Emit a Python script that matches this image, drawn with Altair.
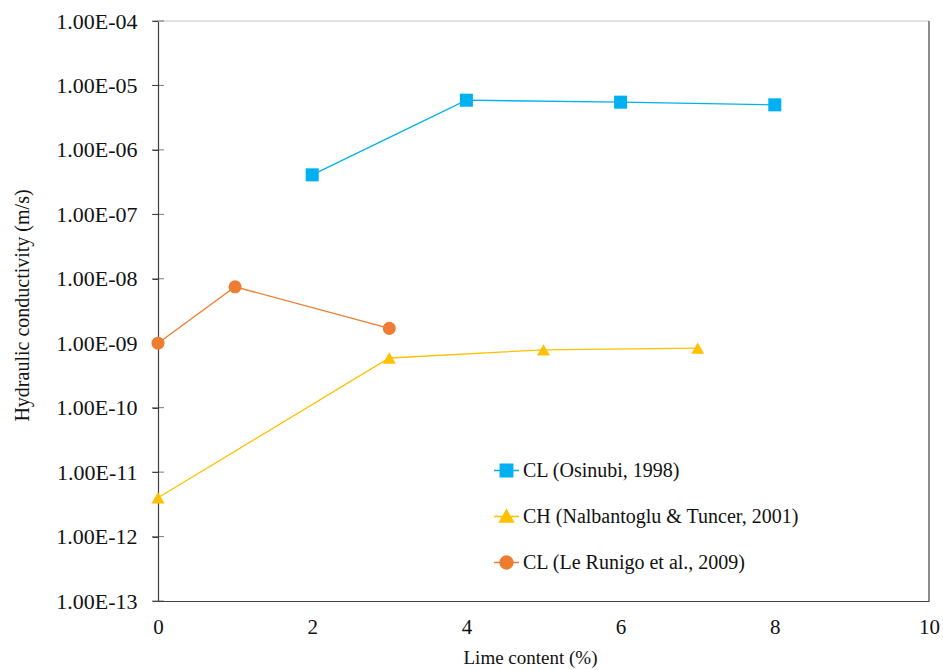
import altair as alt
import pandas as pd

# ---- data ----
series_names = ["CL (Osinubi, 1998)", "CH (Nalbantoglu & Tuncer, 2001)", "CL (Le Runigo et al., 2009)"]
series_colors = ["#00B0F0", "#FFC000", "#ED7D31"]
series_shapes = ["square", "triangle-up", "circle"]

osinubi_x = [2, 4, 6, 8]
osinubi_k = [4.1e-7, 5.9e-6, 5.5e-6, 5.0e-6]

nalban_x = [0, 3, 5, 7]
nalban_k = [4.0e-12, 5.9e-10, 7.9e-10, 8.4e-10]

runigo_x = [0, 1, 3]
runigo_k = [1.0e-9, 7.5e-9, 1.7e-9]

x_ticks = [0, 2, 4, 6, 8, 10]
y_ticks = [1e-13, 1e-12, 1e-11, 1e-10, 1e-9, 1e-8, 1e-7, 1e-6, 1e-5, 1e-4]

rows = []
for name, xs, ks in [(series_names[0], osinubi_x, osinubi_k),
                     (series_names[1], nalban_x, nalban_k),
                     (series_names[2], runigo_x, runigo_k)]:
    for xv, kv in zip(xs, ks):
        rows.append({"series": name, "lime": xv, "k": kv})
df = pd.DataFrame(rows)
ticks_df = pd.DataFrame({"lime": [x_ticks[0]] * len(y_ticks), "k": y_ticks})
top_df = pd.DataFrame({"k": [y_ticks[-1]]})
right_df = pd.DataFrame({"lime": [x_ticks[-1]]})

FONT = "Liberation Serif"
AXIS_COLOR = "#404040"
TEXT_COLOR = "#111111"

x_scale = alt.Scale(domain=[x_ticks[0], x_ticks[-1]], nice=False)
y_scale = alt.Scale(type="log", domain=[y_ticks[0], y_ticks[-1]], nice=False)
color_scale = alt.Scale(domain=series_names, range=series_colors)

label_expr = ("'1.00E-' + (round(-log(datum.value)/LN10) < 10 ? '0' : '') + "
              "round(-log(datum.value)/LN10)")

x_enc = alt.X("lime:Q", scale=x_scale,
              axis=alt.Axis(values=x_ticks, format="d", ticks=False, grid=False,
                            title="Lime content (%)",
                            labelFontSize=21, labelFont=FONT, labelColor=TEXT_COLOR,
                            labelPadding=15, labelFlush=False,
                            titleFont=FONT, titleFontSize=19, titleFontWeight="normal",
                            titleColor=TEXT_COLOR, titleX=372, titleY=56, titleBaseline="middle",
                            domainColor=AXIS_COLOR, domainWidth=1.2))
y_enc = alt.Y("k:Q", scale=y_scale,
              axis=alt.Axis(values=y_ticks, grid=False, labelExpr=label_expr,
                            title="Hydraulic conductivity (m/s)",
                            labelFontSize=22, labelFont=FONT, labelColor=TEXT_COLOR,
                            labelPadding=15, tickSize=6, tickColor=AXIS_COLOR,
                            domainColor=AXIS_COLOR, domainWidth=1.2,
                            titleFont=FONT, titleFontSize=20, titleFontWeight="normal",
                            titleColor=TEXT_COLOR, titleX=-136, titleY=284,
                            titleBaseline="middle", titleAngle=-90))

base = alt.Chart(df)

top_line = alt.Chart(top_df).mark_rule(color="#D9D9D9", strokeWidth=1.5).encode(
    y=alt.Y("k:Q", scale=y_scale))
right_line = alt.Chart(right_df).mark_rule(color=AXIS_COLOR, strokeWidth=1.2).encode(
    x=alt.X("lime:Q", scale=x_scale))
inner_ticks = alt.Chart(ticks_df).mark_tick(orient="horizontal", size=12, thickness=1,
                                            color=AXIS_COLOR).encode(
    x=alt.X("lime:Q", scale=x_scale), y=alt.Y("k:Q", scale=y_scale))

lines = base.mark_line(strokeWidth=1.3).encode(
    x=x_enc, y=y_enc,
    color=alt.Color("series:N", scale=color_scale, legend=None),
    detail="series:N", order="lime:Q")

points = base.mark_point(filled=True, size=170, opacity=1).encode(
    x=alt.X("lime:Q", scale=x_scale), y=alt.Y("k:Q", scale=y_scale),
    color=alt.Color("series:N", scale=color_scale, legend=None),
    shape=alt.Shape("series:N", scale=alt.Scale(domain=series_names, range=series_shapes),
                    legend=None))

# legend-only layer: line-through-symbol glyphs (no marks drawn, domain is explicit)
sq = "M-1,0H1M-0.5,-0.5H0.5V0.5H-0.5Z"
tri = "M-1,0H1M-0.56,0.44L0.56,0.44L0,-0.52Z"
circ = "M-1,0H1M-0.52,0A0.52,0.52 0 1,0 0.52,0A0.52,0.52 0 1,0 -0.52,0Z"
leg = alt.Legend(title=None, orient="none", legendX=335, legendY=436, padding=0,
                 symbolSize=625, rowPadding=22, labelOffset=3,
                 labelFont=FONT, labelFontSize=20, labelColor=TEXT_COLOR,
                 symbolStrokeWidth=1.4, labelLimit=400, symbolOpacity=1,
                 symbolFillColor="#000000", symbolStrokeColor="#000000")
legend_layer = base.transform_filter("false").mark_point(
    filled=True, strokeWidth=1.4, opacity=1).encode(
    x=alt.X("lime:Q", scale=x_scale), y=alt.Y("k:Q", scale=y_scale),
    fill=alt.Fill("series:N", scale=color_scale, legend=leg),
    stroke=alt.Stroke("series:N", scale=color_scale, legend=leg),
    shape=alt.Shape("series:N", scale=alt.Scale(domain=series_names, range=[sq, tri, circ]),
                    legend=leg))

chart = alt.layer(top_line, right_line, lines, inner_ticks, points, legend_layer).resolve_scale(
    shape="independent", fill="independent", stroke="independent"
).properties(
    width=771, height=580,
    autosize=alt.AutoSizeParams(type="none"),
    padding={"left": 158, "top": 21, "right": 14, "bottom": 69},
    background="white"
).configure(font=FONT).configure_view(stroke=None)

chart.save("out.html", embed_options={"renderer": "svg", "actions": False})
